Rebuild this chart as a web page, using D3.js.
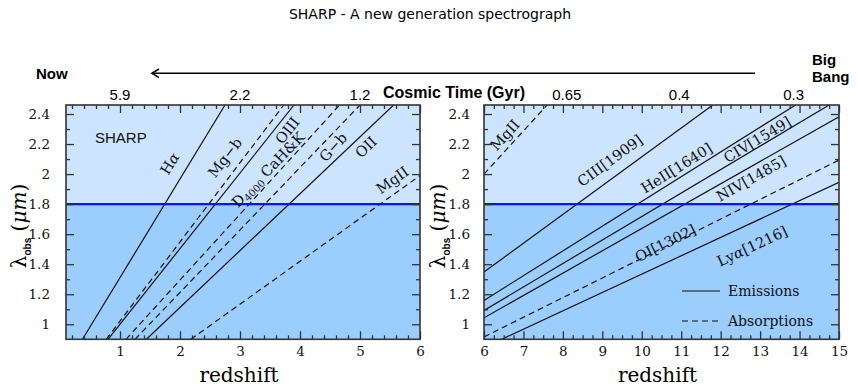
<!DOCTYPE html>
<html>
<head>
<meta charset="utf-8">
<script src="https://cdn.jsdelivr.net/npm/d3@7"></script>
<style>
  body { margin: 0; background: #fff; }
  svg { display: block; }
</style>
</head>
<body>
<svg id="chart" width="858" height="388"></svg>
<script>
// observed wavelength (micron) vs redshift, two redshift windows
var lamDomain = [0.9, 2.46];
var sharpLimit = 1.8;

var leftNames = ["Hα", "Mg−b", "OIII", "G−b", "D4000 CaH&K", "OII", "MgII"];
var leftKinds = ["em", "abs", "em", "abs", "abs", "em", "abs"];
var leftStart = [[0.375, 0.9], [0.77, 0.9], [0.80, 0.9], [1.10, 0.9], [1.25, 0.9], [1.44, 0.9], [2.18, 0.9]];
var leftEnd = [[2.75, 2.46], [3.73, 2.46], [3.90, 2.46], [4.66, 2.46], [5.0, 2.46], [5.56, 2.46], [6.0, 1.99]];
var leftLabelAt = [[1.83, 2.07], [2.75, 2.11], [3.79, 2.29], [4.55, 2.18], [3.47, 2.03], [5.1, 2.18], [5.54, 1.96]];

var rightNames = ["MgII", "CIII[1909]", "HeII[1640]", "CIV[1549]", "NIV[1485]", "OI[1302]", "Lyα[1216]"];
var rightKinds = ["abs", "em", "em", "em", "em", "abs", "em"];
var rightStart = [[6, 2.0], [6, 1.348], [6, 1.159], [6, 1.092], [6, 1.043], [6, 0.916], [6.45, 0.9]];
var rightEnd = [[7.6, 2.46], [11.8, 2.46], [13.9, 2.46], [14.75, 2.46], [15, 2.382], [15, 2.093], [15, 1.945]];
var rightLabelAt = [[6.53, 2.26], [9.19, 2.09], [10.88, 2.04], [12.93, 2.23], [12.77, 1.97], [10.6, 1.54], [12.8, 1.52]];

// cosmic time (Gyr) marked above each panel
var timeLeftZ = [1, 3, 5];
var timeLeftLabels = ["5.9", "2.2", "1.2"];
var timeRightZ = [8.1, 10.95, 13.85];
var timeRightLabels = ["0.65", "0.4", "0.3"];

var svg = d3.select("#chart");
var serif = "'DejaVu Serif', serif";
var sans = "'Liberation Sans', Arial, sans-serif";

svg.append("text")
  .attr("x", 430).attr("y", 19)
  .attr("text-anchor", "middle")
  .style("font-family", "'DejaVu Sans', sans-serif")
  .style("font-size", "14px")
  .text("SHARP - A new generation spectrograph");

// header: arrow of time
svg.append("text").attr("x", 36).attr("y", 79)
  .style("font-family", sans).style("font-weight", "bold").style("font-size", "15px")
  .text("Now");
svg.append("line").attr("x1", 152).attr("y1", 73.3).attr("x2", 755).attr("y2", 73.3)
  .attr("stroke", "#000").attr("stroke-width", 1.6);
svg.append("path").attr("d", "M159,69 L152,73.3 L159,77.6")
  .attr("fill", "none").attr("stroke", "#000").attr("stroke-width", 1.6);
svg.append("text").attr("x", 812).attr("y", 65)
  .style("font-family", sans).style("font-weight", "bold").style("font-size", "15px")
  .text("Big");
svg.append("text").attr("x", 812).attr("y", 82)
  .style("font-family", sans).style("font-weight", "bold").style("font-size", "15px")
  .text("Bang");
svg.append("text").attr("x", 383).attr("y", 98)
  .style("font-family", sans).style("font-weight", "bold").style("font-size", "16px")
  .text("Cosmic Time (Gyr)");

// pieces of a label: plain text, greek italic, subscript
function labelParts(name) {
  if (name === "D4000 CaH&K") return [["D", ""], ["4000", "sub"], [" CaH&K", ""]];
  var out = [];
  name.split(/(α)/).forEach(function(s) {
    if (s === "") return;
    out.push([s, s === "α" ? "i" : ""]);
  });
  return out;
}

function drawPanel(p) {
  var x = d3.scaleLinear().domain(p.zDomain).range(p.xRange);
  var y = d3.scaleLinear().domain(lamDomain).range([339.3, 105]);
  var x0 = p.xRange[0], x1 = p.xRange[1];
  var g = svg.append("g");

  g.append("rect")
    .attr("x", x0).attr("y", y(lamDomain[1]))
    .attr("width", x1 - x0).attr("height", y(sharpLimit) - y(lamDomain[1]))
    .attr("fill", "#cce4fd");
  g.append("rect")
    .attr("x", x0).attr("y", y(sharpLimit))
    .attr("width", x1 - x0).attr("height", y(lamDomain[0]) - y(sharpLimit))
    .attr("fill", "#9bcdfd");

  svg.append("clipPath").attr("id", "clip-" + p.id)
    .append("rect")
    .attr("x", x0).attr("y", y(lamDomain[1]))
    .attr("width", x1 - x0).attr("height", y(lamDomain[0]) - y(lamDomain[1]));

  var lines = g.append("g").attr("clip-path", "url(#clip-" + p.id + ")");
  p.starts.forEach(function(s, i) {
    var e = p.ends[i];
    lines.append("line")
      .attr("x1", x(s[0])).attr("y1", y(s[1]))
      .attr("x2", x(e[0])).attr("y2", y(e[1]))
      .attr("stroke", "#111").attr("stroke-width", 1.2)
      .attr("stroke-dasharray", p.kinds[i] === "abs" ? "6,4" : null);
  });

  g.append("line")
    .attr("x1", x0).attr("x2", x1)
    .attr("y1", y(sharpLimit)).attr("y2", y(sharpLimit))
    .attr("stroke", "#1010ff").attr("stroke-width", 2.2);

  // axes, ticks pointing inward on all four sides
  g.append("g").attr("transform", "translate(0," + y(lamDomain[0]) + ")")
    .call(d3.axisBottom(x).tickValues(p.major).tickFormat(d3.format("d"))
      .tickSizeInner(-8).tickSizeOuter(0).tickPadding(7));
  g.append("g").attr("transform", "translate(0," + y(lamDomain[0]) + ")")
    .call(d3.axisBottom(x).tickValues(p.minor).tickFormat("").tickSizeInner(-4).tickSizeOuter(0));
  g.append("g").attr("transform", "translate(0," + y(lamDomain[1]) + ")")
    .call(d3.axisTop(x).tickValues(p.major).tickFormat("").tickSizeInner(-8).tickSizeOuter(0));
  g.append("g").attr("transform", "translate(0," + y(lamDomain[1]) + ")")
    .call(d3.axisTop(x).tickValues(p.minor).tickFormat("").tickSizeInner(-4).tickSizeOuter(0));

  var yMajor = [1, 1.2, 1.4, 1.6, 1.8, 2, 2.2, 2.4];
  var yMinor = [1.1, 1.3, 1.5, 1.7, 1.9, 2.1, 2.3];
  g.append("g").attr("transform", "translate(" + x0 + ",0)")
    .call(d3.axisLeft(y).tickValues(yMajor).tickFormat(d3.format("~g"))
      .tickSizeInner(-8).tickSizeOuter(0).tickPadding(p.yPad));
  g.append("g").attr("transform", "translate(" + x0 + ",0)")
    .call(d3.axisLeft(y).tickValues(yMinor).tickFormat("").tickSizeInner(-4).tickSizeOuter(0));
  g.append("g").attr("transform", "translate(" + x1 + ",0)")
    .call(d3.axisRight(y).tickValues(yMajor).tickFormat("").tickSizeInner(-8).tickSizeOuter(0));
  g.append("g").attr("transform", "translate(" + x1 + ",0)")
    .call(d3.axisRight(y).tickValues(yMinor).tickFormat("").tickSizeInner(-4).tickSizeOuter(0));

  g.selectAll(".domain").remove();
  g.selectAll(".tick line").attr("stroke", "#333").attr("stroke-width", 1.3);
  g.selectAll(".tick text")
    .attr("fill", "#111")
    .style("font-family", serif).style("font-size", "13.5px");

  g.append("rect")
    .attr("x", x0).attr("y", y(lamDomain[1]))
    .attr("width", x1 - x0).attr("height", y(lamDomain[0]) - y(lamDomain[1]))
    .attr("fill", "none").attr("stroke", "#333").attr("stroke-width", 1.6);

  // line labels, rotated along their line
  p.names.forEach(function(name, i) {
    var s = p.starts[i], e = p.ends[i];
    var ang = Math.atan2(y(e[1]) - y(s[1]), x(e[0]) - x(s[0])) * 180 / Math.PI;
    var at = p.labelAt[i];
    var t = g.append("text")
      .attr("transform", "translate(" + x(at[0]) + "," + y(at[1]) + ") rotate(" + ang + ")")
      .attr("text-anchor", "middle")
      .attr("dy", "0.35em")
      .attr("fill", "#111")
      .style("font-family", serif).style("font-size", "14.5px");
    labelParts(name).forEach(function(part) {
      var ts = t.append("tspan").text(part[0]);
      if (part[1] === "i") ts.style("font-style", "italic");
      if (part[1] === "sub") ts.style("font-size", "10px").attr("baseline-shift", "-3");
    });
  });

  // x title
  g.append("text")
    .attr("x", (x0 + x1) / 2 - 4).attr("y", 382)
    .attr("text-anchor", "middle")
    .style("font-family", serif).style("font-size", "20px")
    .text("redshift");

  // y title
  var yt = g.append("text")
    .attr("transform", "translate(" + p.yTitleX + ",226) rotate(-90)")
    .attr("text-anchor", "middle")
    .style("font-family", serif).style("font-size", "20px");
  yt.append("tspan").text("λ");
  yt.append("tspan").text("obs")
    .style("font-family", sans).style("font-weight", "bold").style("font-size", "10px")
    .attr("baseline-shift", "-5");
  yt.append("tspan").text(" (");
  yt.append("tspan").text("μm").style("font-style", "italic");
  yt.append("tspan").text(")");

  // cosmic time numbers
  p.timeZ.forEach(function(z, i) {
    svg.append("text")
      .attr("x", x(z)).attr("y", 100)
      .attr("text-anchor", "middle")
      .style("font-family", sans).style("font-size", "15px")
      .text(p.timeLabels[i]);
  });

  return {x: x, y: y, g: g};
}

var minorLeft = d3.range(1, 30).map(function(d) { return d / 5; }).filter(function(d) { return d % 1 !== 0; });
var minorRight = d3.range(24, 61).map(function(d) { return d / 4; }).filter(function(d) { return d % 1 !== 0; });

drawPanel({
  id: "left", zDomain: [0.1, 6], xRange: [66, 420],
  major: [1, 2, 3, 4, 5, 6], minor: minorLeft, yPad: 16, yTitleX: 26,
  names: leftNames, kinds: leftKinds, starts: leftStart, ends: leftEnd, labelAt: leftLabelAt,
  timeZ: timeLeftZ, timeLabels: timeLeftLabels
});

var right = drawPanel({
  id: "right", zDomain: [6, 15], xRange: [484, 839],
  major: d3.range(6, 16), minor: minorRight, yPad: 14, yTitleX: 445,
  names: rightNames, kinds: rightKinds, starts: rightStart, ends: rightEnd, labelAt: rightLabelAt,
  timeZ: timeRightZ, timeLabels: timeRightLabels
});

// SHARP tag inside the left panel
svg.append("text").attr("x", 95).attr("y", 143)
  .style("font-family", sans).style("font-size", "15px").attr("fill", "#111")
  .text("SHARP");

// legend
var legend = right.g.append("g");
[["Emissions", null, 291], ["Absorptions", "6,4", 321]].forEach(function(d) {
  legend.append("line")
    .attr("x1", 682).attr("x2", 720).attr("y1", d[2]).attr("y2", d[2])
    .attr("stroke", "#111").attr("stroke-width", 1.2)
    .attr("stroke-dasharray", d[1]);
  legend.append("text")
    .attr("x", 728).attr("y", d[2]).attr("dy", "0.35em")
    .style("font-family", serif).style("font-size", "14px").attr("fill", "#111")
    .text(d[0]);
});
</script>
</body>
</html>
